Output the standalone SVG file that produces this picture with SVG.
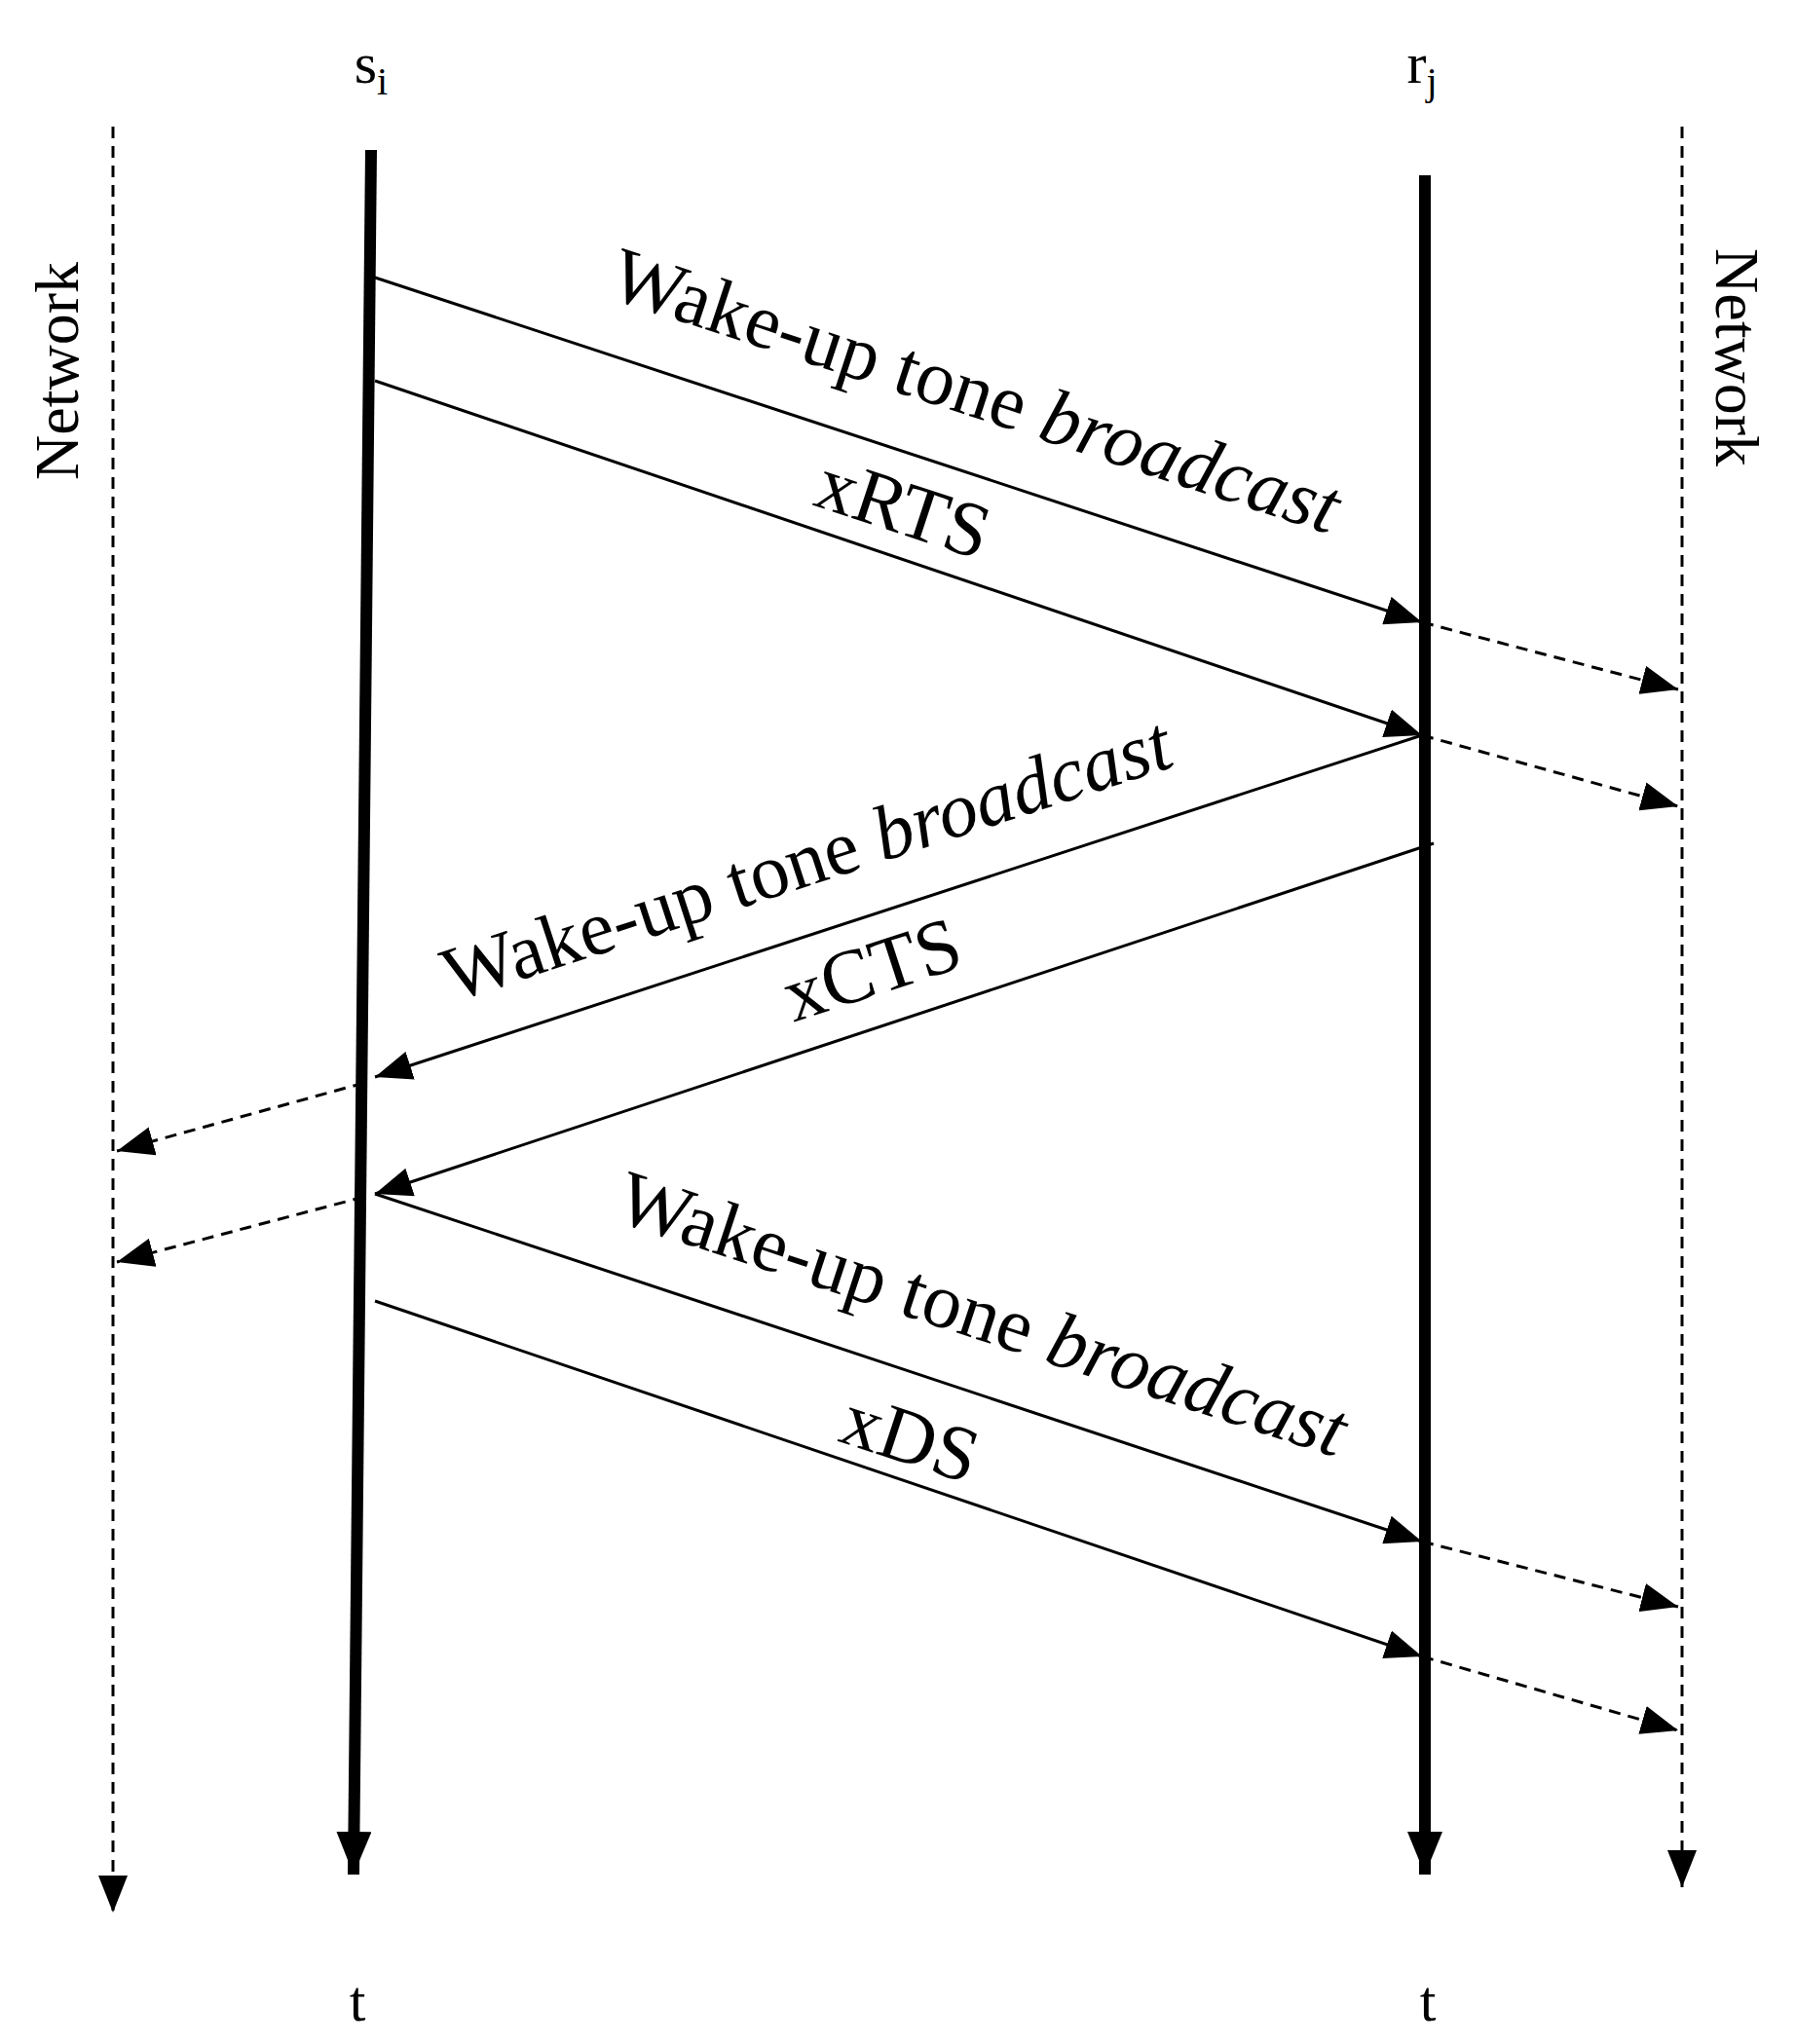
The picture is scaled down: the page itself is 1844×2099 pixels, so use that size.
<svg xmlns="http://www.w3.org/2000/svg" width="1844" height="2099" viewBox="0 0 1844 2099">
<defs>
<marker id="ah" viewBox="0 0 10 10" refX="10" refY="5" markerWidth="10" markerHeight="10" markerUnits="userSpaceOnUse" orient="auto"><path d="M0,0 L10,5 L0,10 z" fill="#000"/></marker>
<marker id="a" viewBox="0 0 10 10" refX="10" refY="5" markerWidth="38" markerHeight="30" markerUnits="userSpaceOnUse" orient="auto" preserveAspectRatio="none"><path d="M0,0 L10,5 L0,10 z" fill="#000"/></marker>
<marker id="ab" viewBox="0 0 10 10" refX="10" refY="5" markerWidth="44" markerHeight="36" markerUnits="userSpaceOnUse" orient="auto" preserveAspectRatio="none"><path d="M0,0 L10,5 L0,10 z" fill="#000"/></marker>
<style>
text{font-family:"Liberation Serif","Times New Roman",serif;fill:#000}
.t{font-size:80px}
.s{stroke:#000;stroke-width:3;fill:none}
.d{stroke:#000;stroke-width:3;stroke-dasharray:12,8;fill:none}
.l{stroke:#000;stroke-width:12;fill:none}
</style>
</defs>
<rect width="1844" height="2099" fill="#fff"/>
<g id="si"><line class="l" x1="381" y1="154" x2="363" y2="1925" marker-end="url(#ab)"/><text x="381" y="85" font-size="60" text-anchor="middle">s<tspan font-size="40" dy="12">i</tspan></text><text x="367" y="2075" font-size="60" text-anchor="middle">t</text></g>
<g id="rj"><line class="l" x1="1463" y1="180" x2="1463" y2="1925" marker-end="url(#ab)"/><text x="1460" y="85" font-size="60" text-anchor="middle">r<tspan font-size="40" dy="12">j</tspan></text><text x="1466" y="2075" font-size="60" text-anchor="middle">t</text></g>
<g id="netL"><line class="d" x1="116" y1="130" x2="116" y2="1964" marker-end="url(#a)"/><text transform="translate(80,381) rotate(-90)" font-size="64" text-anchor="middle">Network</text></g>
<g id="netR"><line class="d" x1="1727" y1="130" x2="1727" y2="1938" marker-end="url(#a)"/><text transform="translate(1762,367) rotate(90)" font-size="64" text-anchor="middle">Network</text></g>
<g id="connectors">
<line class="s" x1="385" y1="285" x2="1460" y2="639" marker-end="url(#a)"/>
<line class="d" x1="1460" y1="639" x2="1723" y2="708" marker-end="url(#a)"/>
<line class="s" x1="385" y1="391" x2="1460" y2="755" marker-end="url(#a)"/>
<line class="d" x1="1460" y1="755" x2="1723" y2="828" marker-end="url(#a)"/>
<line class="s" x1="1460" y1="755" x2="385" y2="1106" marker-end="url(#a)"/>
<line class="d" x1="374" y1="1112" x2="120" y2="1182" marker-end="url(#a)"/>
<line class="s" x1="1472" y1="866" x2="385" y2="1226" marker-end="url(#a)"/>
<line class="d" x1="374" y1="1229" x2="120" y2="1296" marker-end="url(#a)"/>
<line class="s" x1="385" y1="1226" x2="1460" y2="1583" marker-end="url(#a)"/>
<line class="d" x1="1460" y1="1583" x2="1723" y2="1650" marker-end="url(#a)"/>
<line class="s" x1="385" y1="1336" x2="1460" y2="1701" marker-end="url(#a)"/>
<line class="d" x1="1460" y1="1701" x2="1723" y2="1777" marker-end="url(#a)"/>
</g>
<g id="labels">
<text class="t" transform="translate(1002,401) rotate(18.2)" text-anchor="middle" dominant-baseline="central">Wake-up tone <tspan font-style="italic">broadcast</tspan></text>
<text class="t" transform="translate(928,521) rotate(18.2)" text-anchor="middle" dominant-baseline="central">xRTS</text>
<text class="t" transform="translate(828,882) rotate(-18.1)" text-anchor="middle" dominant-baseline="central">Wake-up tone <tspan font-style="italic">broadcast</tspan></text>
<text class="t" transform="translate(895,995) rotate(-18.1)" text-anchor="middle" dominant-baseline="central">xCTS</text>
<text class="t" transform="translate(1009,1349) rotate(18.2)" text-anchor="middle" dominant-baseline="central">Wake-up tone <tspan font-style="italic">broadcast</tspan></text>
<text class="t" transform="translate(935,1476) rotate(18.2)" text-anchor="middle" dominant-baseline="central">xDS</text>
</g>
</svg>
